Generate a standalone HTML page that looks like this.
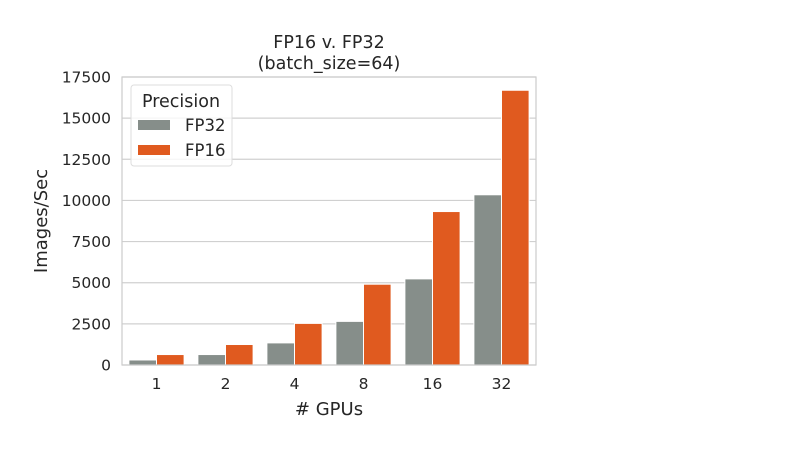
<!DOCTYPE html>
<html><head><meta charset="utf-8"><style>
body{margin:0;background:#fff;font-family:"DejaVu Sans","Liberation Sans",sans-serif;}
svg text{font-family:"DejaVu Sans","Liberation Sans",sans-serif;fill:#262626;}
</style></head><body>
<svg id="chart" width="800" height="450">
<text x="329" y="48" font-size="17.5" text-anchor="middle">FP16 v. FP32</text>
<text x="329" y="69" font-size="17.5" text-anchor="middle">(batch_size=64)</text>
<g id="grid"></g><g id="bars"></g><g id="ticks"></g>
<rect x="122" y="77" width="414" height="288" fill="none" stroke="#cccccc" stroke-width="1.2"/>
<text x="329" y="415" font-size="18" text-anchor="middle"># GPUs</text>
<text transform="translate(47,221) rotate(-90)" font-size="18" text-anchor="middle">Images/Sec</text>
<g>
<rect x="131" y="85" width="101" height="81" rx="3" fill="#fff" fill-opacity="0.8" stroke="#ddd"/>
<text x="181" y="107" font-size="17.5" text-anchor="middle">Precision</text>
<rect x="138" y="120" width="32" height="10" fill="#868e8a"/>
<text x="185" y="131" font-size="16.5">FP32</text>
<rect x="138" y="145" width="32" height="10" fill="#e05a1f"/>
<text x="185" y="156" font-size="16.5">FP16</text>
</g>
</svg>
<script>
const categories=["1","2","4","8","16","32"];
const fp32=[305,635,1343,2650,5233,10343];
const fp16=[635,1245,2528,4909,9324,16694];
const yTicks=[0,2500,5000,7500,10000,12500,15000,17500];
const NS="http://www.w3.org/2000/svg";
const L=122,R=536,T=77,B=365,YMAX=17500;
const y=v=>B-(v/YMAX)*(B-T);
const gw=(R-L)/categories.length;
const x=i=>L+gw*(i+0.5);
function mk(tag,attrs,parent){const e=document.createElementNS(NS,tag);for(const k in attrs)e.setAttribute(k,attrs[k]);document.getElementById(parent).appendChild(e);return e;}
yTicks.forEach(t=>{
 const g=mk("line",{x1:L,x2:R,y1:y(t),y2:y(t),stroke:"#d0d0d0","stroke-width":1.2},"grid");
 
 
 const tx=mk("text",{x:L-11,y:y(t)+5.5,"font-size":15.5,"text-anchor":"end"},"ticks");
 tx.textContent=t;
 
 
});
const bw=gw*0.8/2;
categories.forEach((c,i)=>{
 const cx=x(i);
 const b1=mk("rect",{x:cx-bw,y:y(fp32[i]),width:bw,height:B-y(fp32[i]),fill:"#868e8a",stroke:"#fff","stroke-width":1},"bars");
 
 
 const b2=mk("rect",{x:cx,y:y(fp16[i]),width:bw,height:B-y(fp16[i]),fill:"#e05a1f",stroke:"#fff","stroke-width":1},"bars");
 
 
 const tx=mk("text",{x:cx,y:B+24,"font-size":15.5,"text-anchor":"middle"},"ticks");
 tx.textContent=c;
 
 
});
</script>
</body></html>
